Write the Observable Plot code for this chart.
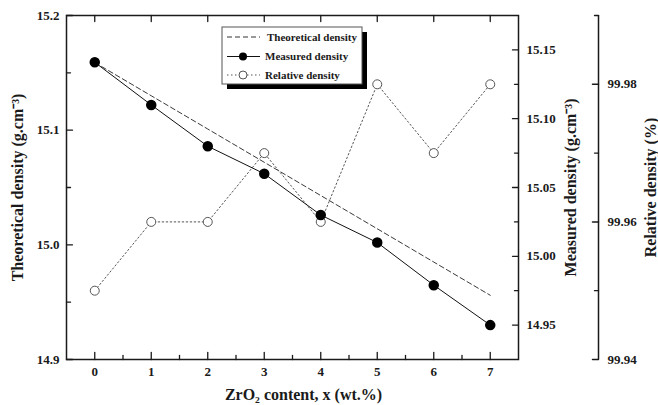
<!DOCTYPE html>
<html>
<head>
<meta charset="utf-8">
<script src="https://cdn.jsdelivr.net/npm/d3@7"></script>
<script src="https://cdn.jsdelivr.net/npm/@observablehq/plot@0.6"></script>
<style>
  html, body { margin: 0; padding: 0; background: #fff; }
</style>
</head>
<body>
<div id="chart"></div>
<script>
// ---- data ----
const zrO2 = [0, 1, 2, 3, 4, 5, 6, 7];
const theoretical = [15.159, 15.130, 15.101, 15.072, 15.043, 15.014, 14.985, 14.956];
const measured = [15.141, 15.110, 15.080, 15.060, 15.030, 15.010, 14.979, 14.950];
const relative = [99.95, 99.96, 99.96, 99.97, 99.96, 99.98, 99.97, 99.98];

// ---- tick labels ----
const xTicks = [0, 1, 2, 3, 4, 5, 6, 7];
const xMinorTicks = [0.5, 1.5, 2.5, 3.5, 4.5, 5.5, 6.5];
const leftTicks = [14.9, 15.0, 15.1, 15.2];
const leftMinor = [14.95, 15.05, 15.15];
const measTicks = [14.95, 15.00, 15.05, 15.10, 15.15];
const measMinor = [14.975, 15.025, 15.075, 15.125];
const relTicks = [99.94, 99.96, 99.98];
const relMinor = [99.95, 99.97, 99.99];

const leftDomain = [14.9, 15.2];
const measDomain = [14.925, 15.175];
const relDomain = [99.94, 99.99];

const titles = {
  x: "ZrO₂ content, x (wt.%)",
  left: "Theoretical density (g.cm⁻³)",
  meas: "Measured density (g.cm⁻³)",
  rel: "Relative density (%)"
};
const legendLabels = ["Theoretical density", "Measured density", "Relative density"];

// secondary axes mapped onto the primary y scale
const mToY = d3.scaleLinear().domain(measDomain).range(leftDomain);
const rToY = d3.scaleLinear().domain(relDomain).range(leftDomain);

const rows = zrO2.map((x, i) => ({
  x, theo: theoretical[i], meas: mToY(measured[i]), rel: rToY(relative[i])
}));

const ink = "#1a1a1a";
const relOffset = 80;
const tickShape = { draw(context, l) { context.moveTo(0, 0); context.lineTo(0, -l); } };
const tk = { stroke: ink, strokeWidth: 1.3, anchor: "start", shape: tickShape };
const textStyle = { tickSize: 0, fill: ink, fontSize: 13, fontWeight: "bold", label: null };
const titleStyle = { text: d => d, fontSize: 16, fontWeight: "bold", fill: ink, textAnchor: "middle", lineAnchor: "middle" };

const chart = Plot.plot({
  width: 658,
  height: 405,
  marginLeft: 66,
  marginRight: 140,
  marginTop: 15,
  marginBottom: 46,
  style: { fontFamily: "'Liberation Serif', 'Times New Roman', serif", fontWeight: "bold", fontSize: "13px", color: ink, background: "#fff" },
  x: { domain: [-0.5, 7.5], axis: null },
  y: { domain: leftDomain, axis: null },
  marks: [
    // bottom axis: inward ticks + labels
    Plot.vector(xTicks, { x: d => d, frameAnchor: "bottom", length: 7, rotate: 0, ...tk }),
    Plot.vector(xMinorTicks, { x: d => d, frameAnchor: "bottom", length: 4, rotate: 0, ...tk }),
    Plot.axisX({ ticks: xTicks, anchor: "bottom", tickPadding: 7, tickFormat: d3.format("d"), ...textStyle }),
    // top ticks
    Plot.vector(xTicks, { x: d => d, frameAnchor: "top", length: 6, rotate: 180, ...tk }),
    // left axis
    Plot.vector(leftTicks, { y: d => d, frameAnchor: "left", length: 6, rotate: 90, ...tk }),
    Plot.vector(leftMinor, { y: d => d, frameAnchor: "left", length: 4, rotate: 90, ...tk }),
    Plot.axisY({ ticks: leftTicks, anchor: "left", tickPadding: 7, tickFormat: d3.format(".1f"), ...textStyle }),
    // right (measured) axis
    Plot.vector(measTicks.map(mToY), { y: d => d, frameAnchor: "right", length: 6, rotate: -90, ...tk }),
    Plot.vector(measMinor.map(mToY), { y: d => d, frameAnchor: "right", length: 4, rotate: -90, ...tk }),
    Plot.axisY({ ticks: measTicks.map(mToY), anchor: "right", tickPadding: 8, tickFormat: d => d3.format(".2f")(mToY.invert(d)), ...textStyle }),
    // offset (relative) axis
    Plot.ruleX([7.5], { dx: relOffset, stroke: ink, strokeWidth: 1.5 }),
    Plot.vector(relTicks.map(rToY), { y: d => d, frameAnchor: "right", dx: relOffset, length: 6, rotate: -90, ...tk, strokeWidth: 1.5 }),
    Plot.vector(relMinor.map(rToY), { y: d => d, frameAnchor: "right", dx: relOffset, length: 4, rotate: -90, ...tk }),
    Plot.axisY({ ticks: relTicks.map(rToY), anchor: "right", dx: relOffset, tickPadding: 9, tickFormat: d => d3.format(".2f")(rToY.invert(d)), ...textStyle }),
    // frame
    Plot.frame({ stroke: ink, strokeWidth: 1.5 }),
    // series
    Plot.line(rows, { x: "x", y: "theo", stroke: "#3a3a3a", strokeWidth: 1, strokeDasharray: "5,3" }),
    Plot.line(rows, { x: "x", y: "rel", stroke: "#555", strokeWidth: 1, strokeDasharray: "1.5,2.5" }),
    Plot.line(rows, { x: "x", y: "meas", stroke: "#111", strokeWidth: 1 }),
    Plot.dot(rows, { x: "x", y: "rel", r: 4.5, fill: "#fff", stroke: "#555", strokeWidth: 1 }),
    Plot.dot(rows, { x: "x", y: "meas", r: 4.5, fill: "#000", stroke: "#000" }),
    // axis titles
    Plot.text([titles.left], { frameAnchor: "left", dx: -49, rotate: -90, ...titleStyle }),
    Plot.text([titles.meas], { frameAnchor: "right", dx: 52, rotate: -90, ...titleStyle }),
    Plot.text([titles.rel], { frameAnchor: "right", dx: 132, rotate: -90, ...titleStyle }),
    Plot.text([titles.x], { frameAnchor: "bottom", dx: 11, dy: 35, ...titleStyle })
  ]
});

document.getElementById("chart").appendChild(chart);

// ---- legend box (with drop shadow) ----
const svg = d3.select(chart);
const lg = svg.append("g").attr("transform", "translate(222,27)");
lg.append("rect").attr("x", 5).attr("y", 5).attr("width", 140).attr("height", 57).attr("fill", "#000");
lg.append("rect").attr("x", 0).attr("y", 0).attr("width", 140).attr("height", 57).attr("fill", "#fff").attr("stroke", "#555").attr("stroke-width", 1);
const rowY = [10, 29.5, 48];
const styles = [
  { dash: "5,3", stroke: "#333", marker: null },
  { dash: null, stroke: "#111", marker: "filled" },
  { dash: "1.5,2.5", stroke: "#555", marker: "open" }
];
legendLabels.forEach((label, i) => {
  const g = lg.append("g").attr("transform", `translate(0,${rowY[i]})`);
  const s = styles[i];
  const ln = g.append("line").attr("x1", 5).attr("x2", 38).attr("y1", 0).attr("y2", 0)
    .attr("stroke", s.stroke).attr("stroke-width", 1);
  if (s.dash) ln.attr("stroke-dasharray", s.dash);
  if (s.marker === "filled") g.append("circle").attr("cx", 21).attr("cy", 0).attr("r", 4).attr("fill", "#000");
  if (s.marker === "open") g.append("circle").attr("cx", 21).attr("cy", 0).attr("r", 4).attr("fill", "#fff").attr("stroke", "#555");
  g.append("text").attr("x", i === 0 ? 45 : 43).attr("y", 0).attr("dy", "0.35em")
    .attr("text-anchor", "start")
    .attr("font-size", 11).attr("font-weight", "bold").attr("fill", ink).text(label);
});
</script>
</body>
</html>
